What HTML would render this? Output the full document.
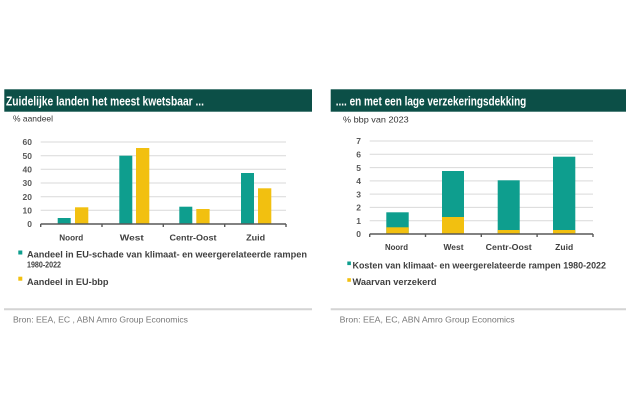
<!DOCTYPE html>
<html><head><meta charset="utf-8"><style>
html,body{margin:0;padding:0;background:#fff;}
svg{display:block;}
text{font-family:"Liberation Sans",sans-serif;}
</style></head><body>
<svg width="626" height="417" viewBox="0 0 626 417" xmlns="http://www.w3.org/2000/svg">
<rect width="626" height="417" fill="#fff"/>
<!-- LEFT -->
<rect x="4.3" y="89.3" width="307.7" height="22.4" fill="#0c4f47"/>
<text x="6" y="105.3" font-size="13" font-weight="bold" fill="#fff" textLength="198" lengthAdjust="spacingAndGlyphs">Zuidelijke landen het meest kwetsbaar ...</text>
<text x="13" y="121.3" font-size="8.5" fill="#333" textLength="40" lengthAdjust="spacingAndGlyphs">% aandeel</text>
<g stroke="#d9d9d9" stroke-width="1">
<line x1="40.7" x2="286" y1="142" y2="142"/>
<line x1="40.7" x2="286" y1="155.7" y2="155.7"/>
<line x1="40.7" x2="286" y1="169.3" y2="169.3"/>
<line x1="40.7" x2="286" y1="183" y2="183"/>
<line x1="40.7" x2="286" y1="196.7" y2="196.7"/>
<line x1="40.7" x2="286" y1="210.3" y2="210.3"/>
</g>
<g fill="#0e9e8e">
<rect x="57.7" y="218" width="13" height="6"/>
<rect x="119.3" y="155.7" width="13" height="68.3"/>
<rect x="179.3" y="206.7" width="13" height="17.3"/>
<rect x="241" y="173" width="13" height="51"/>
</g>
<g fill="#f2c010">
<rect x="75" y="207.3" width="13.3" height="16.7"/>
<rect x="136" y="148" width="13.3" height="76"/>
<rect x="196.3" y="209" width="13.3" height="15"/>
<rect x="258" y="188.3" width="13.3" height="35.7"/>
</g>
<g stroke="#595959" stroke-width="1.4">
<line x1="40.7" x2="286" y1="224" y2="224"/>
<line x1="40.7" x2="40.7" y1="224" y2="227"/>
<line x1="102" x2="102" y1="224" y2="227"/>
<line x1="163.3" x2="163.3" y1="224" y2="227"/>
<line x1="224.7" x2="224.7" y1="224" y2="227"/>
<line x1="286" x2="286" y1="224" y2="227"/>
</g>
<g font-size="8.5" font-weight="bold" fill="#595959" text-anchor="end">
<text x="32" y="145.2">60</text>
<text x="32" y="158.9">50</text>
<text x="32" y="172.5">40</text>
<text x="32" y="186.2">30</text>
<text x="32" y="199.9">20</text>
<text x="32" y="213.5">10</text>
<text x="32" y="227.2">0</text>
</g>
<g font-size="8.5" font-weight="bold" fill="#404040" text-anchor="middle">
<text x="71.3" y="240.5" textLength="24" lengthAdjust="spacingAndGlyphs">Noord</text>
<text x="131.8" y="240.5" textLength="24" lengthAdjust="spacingAndGlyphs">West</text>
<text x="193" y="240.5" textLength="47" lengthAdjust="spacingAndGlyphs">Centr-Oost</text>
<text x="255.6" y="240.5" textLength="19" lengthAdjust="spacingAndGlyphs">Zuid</text>
</g>
<rect x="18.3" y="250.5" width="4" height="4" fill="#0e9e8e"/>
<text x="27" y="257.3" font-size="9.2" font-weight="bold" fill="#404040" textLength="280" lengthAdjust="spacingAndGlyphs">Aandeel in EU-schade van klimaat- en weergerelateerde rampen</text>
<text x="27" y="267.6" font-size="8.2" font-weight="bold" fill="#404040" textLength="34" lengthAdjust="spacingAndGlyphs">1980-2022</text>
<rect x="18.3" y="276.7" width="4" height="4" fill="#f2c010"/>
<text x="27" y="285" font-size="9.2" font-weight="bold" fill="#404040" textLength="81.5" lengthAdjust="spacingAndGlyphs">Aandeel in EU-bbp</text>
<line x1="4" x2="312" y1="309.3" y2="309.3" stroke="#d4d4d4" stroke-width="2"/>
<text x="13" y="322.3" font-size="8.2" fill="#777" textLength="175" lengthAdjust="spacingAndGlyphs">Bron:  EEA,  EC , ABN  Amro  Group  Economics</text>

<!-- RIGHT -->
<rect x="330.7" y="89.3" width="295.3" height="22.4" fill="#0c4f47"/>
<text x="335.7" y="105.3" font-size="13" font-weight="bold" fill="#fff" textLength="190.6" lengthAdjust="spacingAndGlyphs">.... en met een lage verzekeringsdekking</text>
<text x="343" y="122.3" font-size="8.5" fill="#333" textLength="65.7" lengthAdjust="spacingAndGlyphs">% bbp  van  2023</text>
<g stroke="#d9d9d9" stroke-width="1">
<line x1="369.7" x2="593" y1="141" y2="141"/>
<line x1="369.7" x2="593" y1="154.3" y2="154.3"/>
<line x1="369.7" x2="593" y1="167.6" y2="167.6"/>
<line x1="369.7" x2="593" y1="180.9" y2="180.9"/>
<line x1="369.7" x2="593" y1="194.1" y2="194.1"/>
<line x1="369.7" x2="593" y1="207.4" y2="207.4"/>
<line x1="369.7" x2="593" y1="220.7" y2="220.7"/>
</g>
<g fill="#0e9e8e">
<rect x="386.3" y="212.3" width="22.4" height="21.7"/>
<rect x="442" y="171" width="22" height="63"/>
<rect x="497.7" y="180.3" width="22" height="53.7"/>
<rect x="553" y="156.7" width="22.3" height="77.3"/>
</g>
<g fill="#f2c010">
<rect x="386.3" y="227.3" width="22.4" height="6.7"/>
<rect x="442" y="217" width="22" height="17"/>
<rect x="497.7" y="230" width="22" height="4"/>
<rect x="553" y="230" width="22.3" height="4"/>
</g>
<g stroke="#595959" stroke-width="1.4">
<line x1="369.7" x2="593" y1="234" y2="234"/>
<line x1="369.7" x2="369.7" y1="234" y2="237"/>
<line x1="425.5" x2="425.5" y1="234" y2="237"/>
<line x1="481.3" x2="481.3" y1="234" y2="237"/>
<line x1="537.1" x2="537.1" y1="234" y2="237"/>
<line x1="593" x2="593" y1="234" y2="237"/>
</g>
<g font-size="8.5" font-weight="bold" fill="#595959" text-anchor="end">
<text x="361" y="144.2">7</text>
<text x="361" y="157.5">6</text>
<text x="361" y="170.8">5</text>
<text x="361" y="184.1">4</text>
<text x="361" y="197.3">3</text>
<text x="361" y="210.6">2</text>
<text x="361" y="223.9">1</text>
<text x="361" y="237.2">0</text>
</g>
<g font-size="8.5" font-weight="bold" fill="#404040" text-anchor="middle">
<text x="396.5" y="250" textLength="23" lengthAdjust="spacingAndGlyphs">Noord</text>
<text x="453.5" y="250" textLength="20" lengthAdjust="spacingAndGlyphs">West</text>
<text x="508.7" y="250" textLength="46" lengthAdjust="spacingAndGlyphs">Centr-Oost</text>
<text x="564.2" y="250" textLength="18" lengthAdjust="spacingAndGlyphs">Zuid</text>
</g>
<rect x="347.3" y="261.5" width="3.6" height="3.6" fill="#0e9e8e"/>
<text x="352.5" y="268.3" font-size="9" font-weight="bold" fill="#404040" textLength="253.5" lengthAdjust="spacingAndGlyphs">Kosten van klimaat- en weergerelateerde rampen 1980-2022</text>
<rect x="347.3" y="278.2" width="3.6" height="3.6" fill="#f2c010"/>
<text x="352.5" y="285" font-size="9" font-weight="bold" fill="#404040" textLength="84" lengthAdjust="spacingAndGlyphs">Waarvan verzekerd</text>
<line x1="330.7" x2="626" y1="309.3" y2="309.3" stroke="#d4d4d4" stroke-width="2"/>
<text x="339.7" y="322.3" font-size="8.2" fill="#777" textLength="175" lengthAdjust="spacingAndGlyphs">Bron:  EEA,  EC, ABN  Amro  Group  Economics</text>
</svg>
</body></html>
